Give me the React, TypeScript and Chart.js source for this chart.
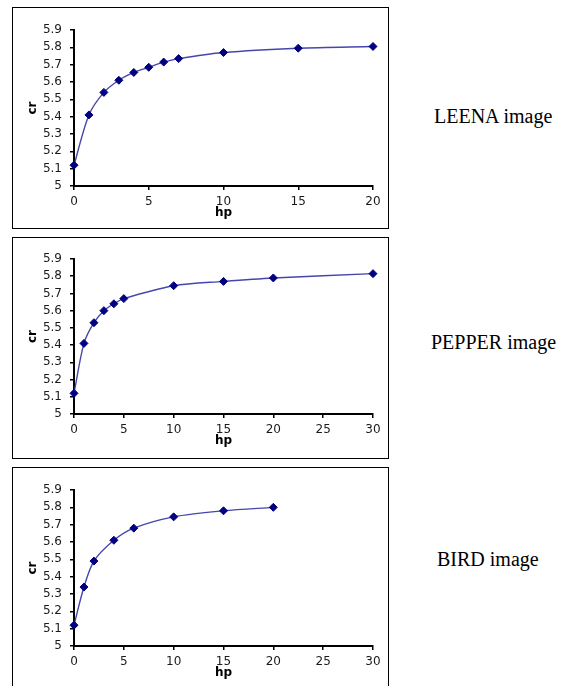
import React, { useEffect, useRef } from "react";
import { Chart, registerables } from "chart.js";

Chart.register(...registerables);

// ---- data ----
const leenaHp = [0, 1, 2, 3, 4, 5, 6, 7, 10, 15, 20];
const leenaCr = [5.12, 5.41, 5.54, 5.61, 5.655, 5.685, 5.715, 5.735, 5.77, 5.795, 5.805];

const pepperHp = [0, 1, 2, 3, 4, 5, 10, 15, 20, 30];
const pepperCr = [5.12, 5.41, 5.53, 5.6, 5.64, 5.67, 5.745, 5.77, 5.79, 5.815];

const birdHp = [0, 1, 2, 4, 6, 10, 15, 20];
const birdCr = [5.12, 5.34, 5.49, 5.61, 5.68, 5.745, 5.78, 5.8];

const panelXMax = [20, 30, 30];
const crMin = 5;
const crMax = 5.9;
const crStep = 0.1;
const hpStep = 5;
const imageNames = ["LEENA image", "PEPPER image", "BIRD image"];
const xTitle = "hp";
const yTitle = "cr";

const TICK_FONT = { family: "'DejaVu Sans', sans-serif", size: 12 };
const TITLE_FONT = { family: "'DejaVu Sans', sans-serif", size: 12, weight: "bold" as const };

type PanelProps = {
  hp: number[];
  cr: number[];
  xMax: number;
  top: number;
  plotTop: number;
  xAxisH: number;
  name: string;
  labelLeft: number;
  labelTop: number;
};

function Panel(p: PanelProps) {
  const ref = useRef<HTMLCanvasElement | null>(null);
  useEffect(() => {
    if (!ref.current) return;
    const chart = new Chart(ref.current, {
      type: "scatter",
      data: {
        datasets: [
          {
            data: p.hp.map((x, i) => ({ x, y: p.cr[i] })),
            showLine: true,
            borderColor: "#4646ac",
            borderWidth: 1.4,
            tension: 0.3,
            pointStyle: "rectRot",
            pointRadius: 4,
            pointBackgroundColor: "#000080",
            pointBorderColor: "#000080",
            pointBorderWidth: 1,
            clip: false,
          } as any,
        ],
      },
      options: {
        animation: false,
        responsive: false,
        maintainAspectRatio: false,
        events: [],
        layout: { padding: { left: 0, top: p.plotTop, right: 15, bottom: 0 } },
        plugins: { legend: { display: false }, tooltip: { enabled: false } },
        scales: {
          x: {
            type: "linear",
            min: 0,
            max: p.xMax,
            afterFit: (s: any) => {
              s.height = p.xAxisH;
            },
            ticks: {
              stepSize: hpStep,
              autoSkip: false,
              color: "#1a1a1a",
              font: TICK_FONT,
              padding: 5,
              maxRotation: 0,
            },
            grid: {
              display: true,
              drawOnChartArea: false,
              drawTicks: true,
              tickLength: 4,
              color: "#000",
              lineWidth: 1.5,
            },
            border: { display: true, color: "#000", width: 2 },
            title: {
              display: true,
              text: xTitle,
              color: "#000",
              font: TITLE_FONT,
              padding: { top: 0, bottom: 8 + (p.xAxisH - 42) },
            },
          },
          y: {
            type: "linear",
            min: crMin,
            max: crMax,
            afterFit: (s: any) => {
              s.width = 61;
            },
            ticks: {
              stepSize: crStep,
              autoSkip: false,
              color: "#1a1a1a",
              font: TICK_FONT,
              padding: 8,
              callback: (v: any) => String(Number(Number(v).toFixed(1))),
            },
            grid: {
              display: true,
              drawOnChartArea: false,
              drawTicks: true,
              tickLength: 4,
              color: "#000",
              lineWidth: 1.5,
            },
            border: { display: true, color: "#000", width: 2 },
            title: {
              display: true,
              text: yTitle,
              color: "#000",
              font: TITLE_FONT,
              padding: { top: 13, bottom: 0 },
            },
          },
        },
      } as any,
    });
    return () => chart.destroy();
  }, []);

  return (
    <>
      <div
        style={{
          position: "absolute",
          left: 12,
          top: p.top,
          width: 375,
          height: 220,
          border: "1px solid #000",
          background: "#fff",
        }}
      >
        <canvas ref={ref} width={375} height={220} style={{ display: "block", width: 375, height: 220 }} />
      </div>
      <div
        style={{
          position: "absolute",
          left: p.labelLeft,
          top: p.labelTop,
          fontFamily: "'Liberation Serif', 'Times New Roman', serif",
          fontSize: 20,
          lineHeight: "20px",
          color: "#000",
          whiteSpace: "nowrap",
        }}
      >
        {p.name}
      </div>
    </>
  );
}

export default function App() {
  return (
    <div
      style={{
        position: "absolute",
        left: 0,
        top: 0,
        width: 566,
        height: 686,
        overflow: "hidden",
        background: "#fff",
      }}
    >
      <Panel hp={leenaHp} cr={leenaCr} xMax={panelXMax[0]} top={7} plotTop={22} xAxisH={42} name={imageNames[0]} labelLeft={434} labelTop={106} />
      <Panel hp={pepperHp} cr={pepperCr} xMax={panelXMax[1]} top={237} plotTop={21} xAxisH={44} name={imageNames[1]} labelLeft={431} labelTop={332} />
      <Panel hp={birdHp} cr={birdCr} xMax={panelXMax[2]} top={467} plotTop={22} xAxisH={42} name={imageNames[2]} labelLeft={437} labelTop={549} />
    </div>
  );
}
